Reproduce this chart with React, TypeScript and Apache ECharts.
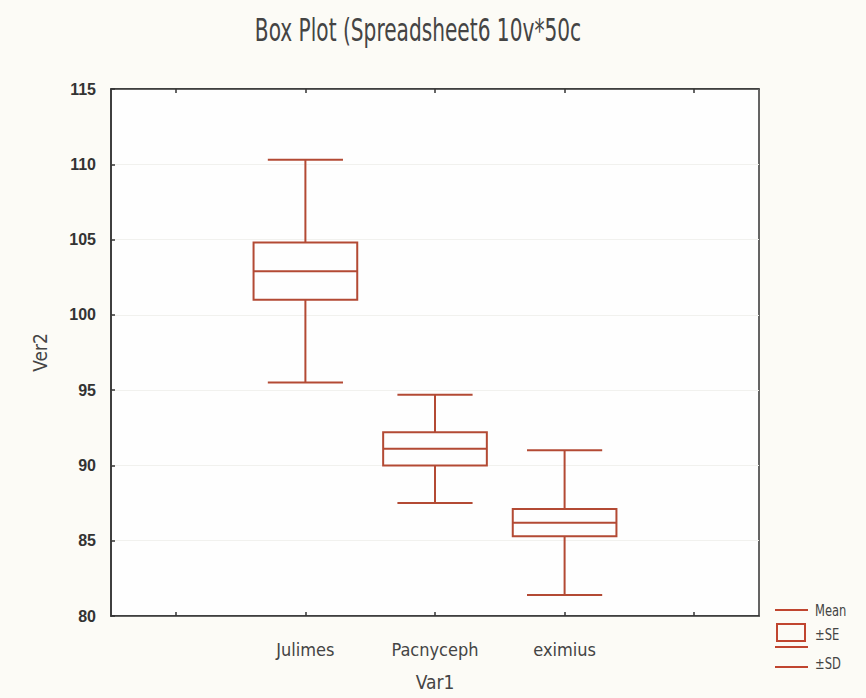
import React, { useEffect, useRef } from "react";
import * as echarts from "echarts";

const categories = ["", "Julimes", "Pacnyceph", "eximius", ""];
const means = [null, 102.9, 91.1, 86.2, null];
const seLow = [null, 101.0, 90.0, 85.3, null];
const seHigh = [null, 104.8, 92.2, 87.1, null];
const sdLow = [null, 95.5, 87.5, 81.4, null];
const sdHigh = [null, 110.3, 94.7, 91.0, null];
const yTicks = { min: 80, max: 115, interval: 5 };
const titleText = "Box Plot (Spreadsheet6 10v*50c";
const legendLabels = ["Mean", "±SE", "±SD"];

const BOX = "#b34a34";
const LEG = "#c0452f";
const COND = "'DejaVu Sans Condensed', 'DejaVu Sans', sans-serif";
const LAB = "'Liberation Sans', Arial, sans-serif";

export default function App() {
  const ref = useRef<HTMLDivElement>(null);
  useEffect(() => {
    if (!ref.current) return;
    const chart = echarts.init(ref.current, null, { renderer: "svg" });
    const data = categories
      .map((c, i) => [i, sdLow[i], seLow[i], means[i], seHigh[i], sdHigh[i]])
      .filter((d) => d[1] != null);
    chart.setOption({
      animation: false,
      backgroundColor: "#fcfbf6",
      grid: {
        left: 111,
        right: 107,
        top: 89,
        bottom: 82,
        show: true,
        backgroundColor: "#fefefe",
        borderColor: "#333",
        borderWidth: 1.5,
      },
      xAxis: [
        {
          type: "category",
          data: categories,
          boundaryGap: true,
          name: "Var1",
          nameLocation: "middle",
          nameGap: 56,
          nameTextStyle: { fontFamily: COND, fontSize: 19, color: "#444" },
          axisLine: { show: true, lineStyle: { color: "#333", width: 1.5 } },
          axisTick: { show: true, inside: true, alignWithLabel: true, length: 4, lineStyle: { color: "#333", width: 1.5 } },
          axisLabel: { fontFamily: COND, fontSize: 18, color: "#444", margin: 24 },
          splitLine: { show: false },
        },
        {
          type: "category",
          data: categories,
          position: "top",
          boundaryGap: true,
          axisLine: { show: true, lineStyle: { color: "#333", width: 1.5 } },
          axisTick: { show: true, inside: true, alignWithLabel: true, length: 4, lineStyle: { color: "#333", width: 1.5 } },
          axisLabel: { show: false },
          splitLine: { show: false },
        },
      ],
      yAxis: {
        type: "value",
        min: yTicks.min,
        max: yTicks.max,
        interval: yTicks.interval,
        name: "Ver2",
        nameLocation: "middle",
        nameGap: 62,
        nameTextStyle: { fontFamily: COND, fontSize: 19, color: "#444" },
        axisLine: { show: true, lineStyle: { color: "#333", width: 1.5 } },
        axisTick: { show: true, inside: true, length: 4, lineStyle: { color: "#333", width: 1.5 } },
        axisLabel: { fontFamily: LAB, fontSize: 16, fontWeight: "bold", color: "#333", margin: 15 },
        splitLine: { show: true, lineStyle: { color: "#f1f1ee", width: 1 } },
      },
      series: [
        {
          type: "custom",
          xAxisIndex: 0,
          data,
          encode: { x: 0, y: [1, 2, 3, 4, 5] },
          renderItem: (params: any, api: any) => {
            const x = api.value(0);
            const band = api.size([1, 0])[0];
            const bw = band * 0.8;
            const cw = band * 0.58;
            const pLow = api.coord([x, api.value(1)]);
            const pQ1 = api.coord([x, api.value(2)]);
            const pMed = api.coord([x, api.value(3)]);
            const pQ3 = api.coord([x, api.value(4)]);
            const pHigh = api.coord([x, api.value(5)]);
            const cx = pMed[0];
            const st = { stroke: BOX, lineWidth: 2, fill: "none" };
            return {
              type: "group",
              children: [
                { type: "line", shape: { x1: cx, y1: pHigh[1], x2: cx, y2: pQ3[1] }, style: st },
                { type: "line", shape: { x1: cx, y1: pQ1[1], x2: cx, y2: pLow[1] }, style: st },
                { type: "line", shape: { x1: cx - cw / 2, y1: pHigh[1], x2: cx + cw / 2, y2: pHigh[1] }, style: st },
                { type: "line", shape: { x1: cx - cw / 2, y1: pLow[1], x2: cx + cw / 2, y2: pLow[1] }, style: st },
                { type: "rect", shape: { x: cx - bw / 2, y: pQ3[1], width: bw, height: pQ1[1] - pQ3[1] }, style: st },
                { type: "line", shape: { x1: cx - bw / 2, y1: pMed[1], x2: cx + bw / 2, y2: pMed[1] }, style: st },
              ],
            };
          },
        },
      ],
      graphic: [
        {
          type: "text",
          x: 418,
          y: 30,
          scaleX: 0.7,
          style: { text: titleText, font: `32px ${COND}`, fill: "#444", align: "center", verticalAlign: "middle" },
        },
        { type: "line", shape: { x1: 775, y1: 610, x2: 808, y2: 610 }, style: { stroke: LEG, lineWidth: 2 } },
        { type: "rect", shape: { x: 777, y: 624, width: 28, height: 17 }, style: { stroke: LEG, lineWidth: 2, fill: "none" } },
        { type: "line", shape: { x1: 775, y1: 647, x2: 808, y2: 647 }, style: { stroke: LEG, lineWidth: 2 } },
        { type: "line", shape: { x1: 775, y1: 667, x2: 808, y2: 667 }, style: { stroke: LEG, lineWidth: 2 } },
        { type: "text", x: 815, y: 610, scaleX: 0.8, style: { text: legendLabels[0], font: `16px ${COND}`, fill: "#444", verticalAlign: "middle" } },
        { type: "text", x: 815, y: 634, scaleX: 0.8, style: { text: legendLabels[1], font: `16px ${COND}`, fill: "#444", verticalAlign: "middle" } },
        { type: "text", x: 815, y: 663, scaleX: 0.8, style: { text: legendLabels[2], font: `16px ${COND}`, fill: "#444", verticalAlign: "middle" } },
      ],
    });
    return () => chart.dispose();
  }, []);
  return <div ref={ref} style={{ position: "fixed", left: 0, top: 0, width: 866, height: 698 }} />;
}
